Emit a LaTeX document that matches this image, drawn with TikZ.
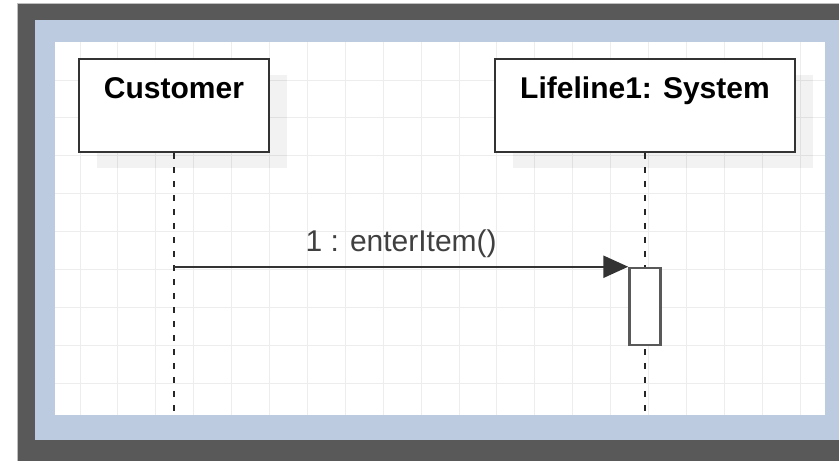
\documentclass[tikz,border=0pt]{standalone}
\usepackage{fontspec}
\setmainfont{Liberation Sans}
\usepackage{tikz}
\usetikzlibrary{arrows.meta,positioning,calc,shadows}

\definecolor{framegray}{HTML}{595959}
\definecolor{frameblue}{HTML}{BDCBE1}
\definecolor{gridgray}{HTML}{EDEDED}
\definecolor{inkgray}{HTML}{333333}

\begin{document}
\begin{tikzpicture}[
    x=1pt, y=-1pt,
    gridline/.style={draw=gridgray, line width=1pt},
    lifebox/.style={rectangle, draw=inkgray, line width=2pt, fill=white, minimum height=93pt,
        drop shadow={shadow xshift=18pt, shadow yshift=-16pt, fill=black, opacity=0.05}},
    boxtitle/.style={font=\fontsize{30}{36}\selectfont\bfseries, text=black, anchor=base, inner sep=0pt},
    lifeline/.style={draw=black!85, line width=2.5pt, dash pattern=on 6pt off 8pt},
    actbox/.style={rectangle, draw=black!65, line width=2.5pt, fill=white, minimum width=31pt, minimum height=77pt},
    msg/.style={draw=inkgray, line width=2.5pt, -{Triangle[length=25pt,width=22pt]}},
    msglabel/.style={font=\fontsize{30}{36}\selectfont, text=black!75, anchor=base, inner sep=0pt}
]
\useasboundingbox (0,0) rectangle (839,461);

% frame
\fill[framegray] (17,3) rectangle (839,461);
\draw[black!25, line width=1pt] (17,461) -- (17,3) -- (839,3);
\fill[frameblue] (35,20) rectangle (839,440);
\fill[white] (55,42) rectangle (825,415);

% grid
\foreach \i in {0,...,19}
    \draw[gridline] (80+37.9*\i,42) -- (80+37.9*\i,415);
\foreach \j in {0,...,8}
    \draw[gridline] (55,80+37.9*\j) -- (825,80+37.9*\j);

% lifelines
\node[lifebox, minimum width=190pt] (customer) at (174,105.5) {};
\node[lifebox, minimum width=300pt] (system) at (645,105.5) {};
\node[boxtitle] (customertitle) at ($(customer.north)+(0,40)$) {Customer};
\node[boxtitle] (systemtitle) at ($(system.north)+(0,40)$) {Lifeline1: System};

\coordinate (bottom) at (0,415);
\draw[lifeline] (customer.south) -- (customer.south |- bottom);
\draw[lifeline] (system.south) -- (system.south |- bottom);

% activation
\node[actbox] (act) at (645,306.5) {};

% message
\draw[msg] (customer.south |- act.north) -- (act.north west)
    node[msglabel, midway, yshift=15pt] (msgtext) {1 : enterItem()};

\end{tikzpicture}
\end{document}
